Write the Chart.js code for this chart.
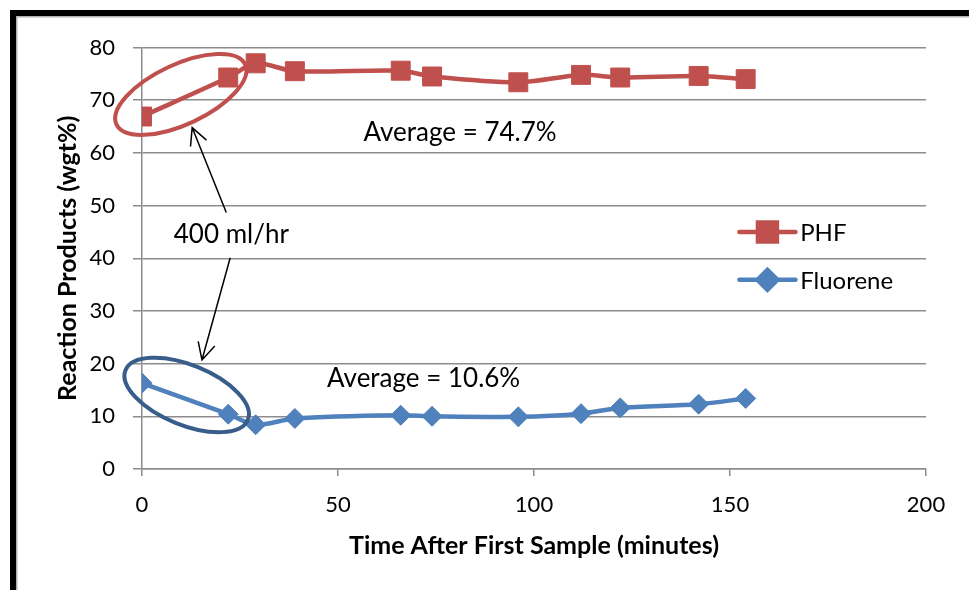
<!DOCTYPE html>
<html>
<head>
<meta charset="utf-8">
<script src="https://cdn.jsdelivr.net/npm/chart.js@4.4.0/dist/chart.umd.min.js"></script>
<style>
  html, body { margin: 0; padding: 0; background: #ffffff; }
  #wrap { width: 969px; height: 590px; position: relative; }
</style>
</head>
<body>
<div id="wrap"><canvas id="chart" width="969" height="590"></canvas></div>
<script>
// Sampling times (minutes after the first sample)
const minutes = [0, 22, 29, 39, 66, 74, 96, 112, 122, 142, 154];
// Reaction products, wgt%
const phf      = [66.9, 74.3, 77.0, 75.5, 75.6, 74.5, 73.4, 74.8, 74.3, 74.6, 74.0];
const fluorene = [16.3, 10.4, 8.4, 9.6, 10.2, 10.0, 9.9, 10.5, 11.6, 12.3, 13.4];
// Axis ticks
const xTicks = [0, 50, 100, 150, 200];
const yTicks = [0, 10, 20, 30, 40, 50, 60, 70, 80];
// Series names
const seriesNames = ['PHF', 'Fluorene'];
// Annotation texts
const avgLabels = ['Average = 74.7%', 'Average = 10.6%'];
const rateLabel = '400 ml/hr';

const RED = '#C0504D';
const BLUE = '#4F81BD';
const BLUE_DARK = '#385D8A';
const GRID = '#8c8c8c';
const FONT = 'Lato, "Open Sans", sans-serif';

const toPoints = ys => minutes.map((m, i) => ({ x: m, y: ys[i] }));

// Outer black frame of the figure
const framePlugin = {
  id: 'frame',
  beforeDraw(chart) {
    const ctx = chart.ctx;
    ctx.save();
    ctx.fillStyle = '#ffffff';
    ctx.fillRect(0, 0, chart.width, chart.height);
    ctx.fillStyle = '#000000';
    ctx.fillRect(10, 10, 6, chart.height - 10);
    ctx.fillRect(10, 10, chart.width - 10, 6);
    ctx.fillStyle = '#b0b0b0';
    ctx.fillRect(16, 16, 1.5, chart.height - 16);
    ctx.fillRect(16, 16, chart.width - 16, 1.5);
    ctx.restore();
  }
};

function arrow(ctx, x1, y1, x2, y2) {
  const ang = Math.atan2(y2 - y1, x2 - x1);
  const len = 19, spread = 0.47;
  ctx.beginPath();
  ctx.moveTo(x1, y1);
  ctx.lineTo(x2, y2);
  ctx.moveTo(x2 - len * Math.cos(ang - spread), y2 - len * Math.sin(ang - spread));
  ctx.lineTo(x2, y2);
  ctx.lineTo(x2 - len * Math.cos(ang + spread), y2 - len * Math.sin(ang + spread));
  ctx.stroke();
}

// Callouts: averages, flow-rate label with arrows, ellipses round the first samples
const calloutPlugin = {
  id: 'callouts',
  afterDatasetsDraw(chart) {
    const ctx = chart.ctx;
    const xs = chart.scales.x, ys = chart.scales.y;
    const px = v => xs.getPixelForValue(v);
    const py = v => ys.getPixelForValue(v);
    ctx.save();

    ctx.lineWidth = 4;
    ctx.strokeStyle = RED;
    ctx.beginPath();
    ctx.ellipse(px(9.9), py(71.1), 71, 30, -25 * Math.PI / 180, 0, Math.PI * 2);
    ctx.stroke();

    ctx.strokeStyle = BLUE_DARK;
    ctx.beginPath();
    ctx.ellipse(px(11.4), py(14.05), 66, 30, 22 * Math.PI / 180, 0, Math.PI * 2);
    ctx.stroke();

    ctx.strokeStyle = '#000000';
    ctx.lineWidth = 1.5;
    arrow(ctx, px(21.5), py(48.7), px(12.8), py(64.8));
    arrow(ctx, px(22.5), py(40.1), px(15.3), py(20.7));

    ctx.fillStyle = '#000000';
    ctx.font = '26px ' + FONT;
    ctx.textAlign = 'left';
    ctx.textBaseline = 'alphabetic';
    ctx.fillText(avgLabels[0], px(56.5), py(62.3));
    ctx.fillText(avgLabels[1], px(47.2), py(15.6));
    ctx.fillText(rateLabel, px(8.1), py(42.9));
    ctx.restore();
  }
};

// Legend drawn inside the plot, on the right
const legendPlugin = {
  id: 'insideLegend',
  afterDraw(chart) {
    const ctx = chart.ctx;
    const xs = chart.scales.x, ys = chart.scales.y;
    const rows = [45.0, 35.9];
    ctx.save();
    chart.data.datasets.forEach((ds, i) => {
      const y = ys.getPixelForValue(rows[i]);
      const x0 = xs.getPixelForValue(152.4), x1 = xs.getPixelForValue(166.7);
      ctx.strokeStyle = ds.borderColor;
      ctx.lineWidth = ds.borderWidth;
      ctx.lineCap = 'round';
      ctx.beginPath();
      ctx.moveTo(x0, y);
      ctx.lineTo(x1, y);
      ctx.stroke();
      ctx.fillStyle = ds.pointBackgroundColor;
      ctx.strokeStyle = ds.pointBorderColor;
      Chart.helpers.drawPoint(ctx, {
        pointStyle: ds.pointStyle, radius: ds.pointRadius,
        borderWidth: ds.pointBorderWidth, rotation: 0
      }, (x0 + x1) / 2, y);
      ctx.fillStyle = '#000000';
      ctx.font = '24px ' + FONT;
      ctx.textAlign = 'left';
      ctx.textBaseline = 'middle';
      ctx.fillText(ds.label, xs.getPixelForValue(167.9), y + 1);
    });
    ctx.restore();
  }
};

function build() {
  new Chart(document.getElementById('chart'), {
    type: 'line',
    data: {
      datasets: [
        {
          label: seriesNames[0],
          data: toPoints(phf),
          borderColor: RED,
          backgroundColor: RED,
          borderWidth: 4.5,
          tension: 0.3,
          pointStyle: 'rect',
          pointRadius: 13.4,
          pointBackgroundColor: RED,
          pointBorderColor: RED,
          pointBorderWidth: 1
        },
        {
          label: seriesNames[1],
          data: toPoints(fluorene),
          borderColor: BLUE,
          backgroundColor: BLUE,
          borderWidth: 4.5,
          tension: 0.3,
          pointStyle: 'rectRot',
          pointRadius: 10,
          pointBackgroundColor: BLUE,
          pointBorderColor: BLUE,
          pointBorderWidth: 1
        }
      ]
    },
    options: {
      responsive: false,
      animation: false,
      devicePixelRatio: 1,
      layout: { padding: { top: 47.5, right: 43, left: 0, bottom: 0 } },
      plugins: { legend: { display: false }, tooltip: { enabled: false }, title: { display: false } },
      scales: {
        x: {
          type: 'linear',
          min: 0, max: 200,
          afterBuildTicks: s => { s.ticks = xTicks.map(v => ({ value: v })); },
          afterFit: s => { s.height = 121; },
          grid: { drawOnChartArea: false, drawTicks: true, tickLength: 7, color: GRID, lineWidth: 1.5 },
          border: { display: true, color: GRID, width: 1.5 },
          ticks: { color: '#000', font: { family: FONT, size: 22 }, padding: 16, maxRotation: 0 },
          title: {
            display: true, text: 'Time After First Sample (minutes)', color: '#000',
            font: { family: FONT, size: 25, weight: 'bold' }, padding: { top: 0, bottom: 29 }
          }
        },
        y: {
          type: 'linear',
          min: 0, max: 80,
          afterBuildTicks: s => { s.ticks = yTicks.map(v => ({ value: v })); },
          afterFit: s => { s.width = 142; },
          grid: { drawOnChartArea: true, drawTicks: true, tickLength: 9, color: GRID, lineWidth: 1.5 },
          border: { display: true, color: GRID, width: 1.5 },
          ticks: { color: '#000', font: { family: FONT, size: 22 }, padding: 18 },
          title: {
            display: true, text: 'Reaction Products (wgt%)', color: '#000',
            font: { family: FONT, size: 25, weight: 'bold' }, padding: { top: 53, bottom: 0 }
          }
        }
      }
    },
    plugins: [framePlugin, calloutPlugin, legendPlugin]
  });
}

if (document.fonts && document.fonts.load) {
  Promise.all([
    document.fonts.load('22px Lato'),
    document.fonts.load('bold 25px Lato')
  ]).then(build, build);
} else {
  build();
}
</script>
</body>
</html>
